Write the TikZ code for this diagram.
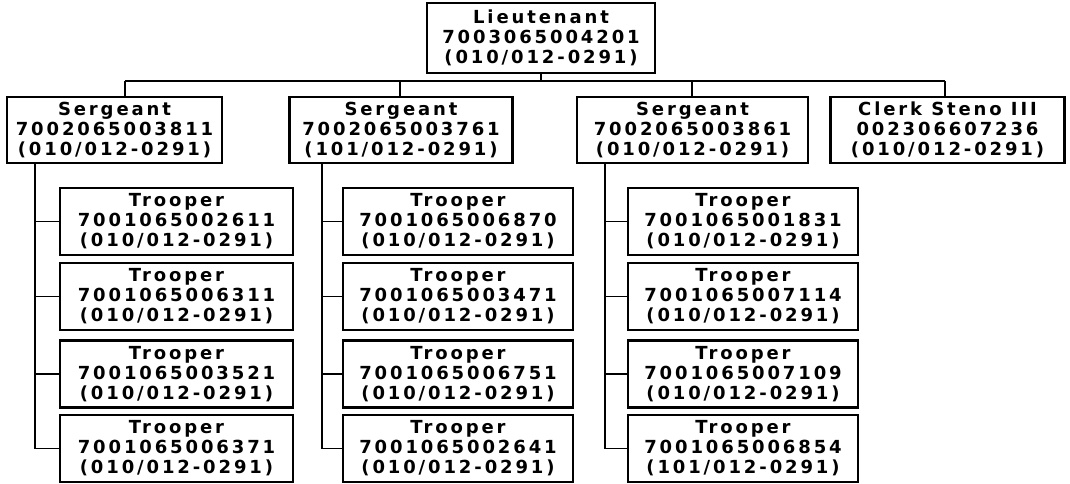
\documentclass[tikz,border=0pt]{standalone}
\usepackage{fontspec}
\newfontfamily\boxfont{DejaVu Sans}[LetterSpace=16]
\begin{document}
\begin{tikzpicture}[x=1pt,y=-1pt,
  box/.style={draw=black, line width=2.8pt, fill=white, align=center, inner sep=0pt,
    font=\boxfont\bfseries\fontsize{18}{20}\selectfont},
  conn/.style={draw=black, line width=1.3pt}]
\useasboundingbox (0,0) rectangle (1070,483);
% boxes
\node[box, minimum width=228pt, minimum height=70pt] (lt) at (541,38) {Lieutenant\\7003065004201\\(010/012-0291)};
\node[box, minimum width=215pt, minimum height=66pt] (s1) at (114.5,130) {Sergeant\\7002065003811\\(010/012-0291)};
\node[box, minimum width=223pt, minimum height=66pt] (s2) at (401,130) {Sergeant\\7002065003761\\(101/012-0291)};
\node[box, minimum width=231pt, minimum height=66pt] (s3) at (692.5,130) {Sergeant\\7002065003861\\(010/012-0291)};
\node[box, minimum width=234pt, minimum height=66pt] (ck) at (947.5,130) {Clerk Steno III\\002306607236\\(010/012-0291)};
% troopers
\foreach \c/\x in {1/176.5, 2/458, 3/743}{
  \foreach \r/\y in {1/221.5, 2/296.5, 3/374, 4/448.5}{
    \coordinate (p\c\r) at (\x,\y);
  }
}
\node[box, minimum width=233pt, minimum height=67pt] (t11) at (p11) {Trooper\\7001065002611\\(010/012-0291)};
\node[box, minimum width=233pt, minimum height=67pt] (t12) at (p12) {Trooper\\7001065006311\\(010/012-0291)};
\node[box, minimum width=233pt, minimum height=67pt] (t13) at (p13) {Trooper\\7001065003521\\(010/012-0291)};
\node[box, minimum width=233pt, minimum height=67pt] (t14) at (p14) {Trooper\\7001065006371\\(010/012-0291)};
\node[box, minimum width=230pt, minimum height=67pt] (t21) at (p21) {Trooper\\7001065006870\\(010/012-0291)};
\node[box, minimum width=230pt, minimum height=67pt] (t22) at (p22) {Trooper\\7001065003471\\(010/012-0291)};
\node[box, minimum width=230pt, minimum height=67pt] (t23) at (p23) {Trooper\\7001065006751\\(010/012-0291)};
\node[box, minimum width=230pt, minimum height=67pt] (t24) at (p24) {Trooper\\7001065002641\\(010/012-0291)};
\node[box, minimum width=230pt, minimum height=67pt] (t31) at (p31) {Trooper\\7001065001831\\(010/012-0291)};
\node[box, minimum width=230pt, minimum height=67pt] (t32) at (p32) {Trooper\\7001065007114\\(010/012-0291)};
\node[box, minimum width=230pt, minimum height=67pt] (t33) at (p33) {Trooper\\7001065007109\\(010/012-0291)};
\node[box, minimum width=230pt, minimum height=67pt] (t34) at (p34) {Trooper\\7001065006854\\(101/012-0291)};
% bus
\coordinate (busy) at (0,81);
\coordinate (d1) at (125,0);
\coordinate (d2) at (400,0);
\coordinate (d3) at (692,0);
\coordinate (d4) at (945,0);
\draw[conn] (lt.south) -- (lt.south |- busy);
\draw[conn] (d1 |- busy) -- (d4 |- busy);
\draw[conn] (d1 |- busy) -- (d1 |- s1.north);
\draw[conn] (d2 |- busy) -- (d2 |- s2.north);
\draw[conn] (d3 |- busy) -- (d3 |- s3.north);
\draw[conn] (d4 |- busy) -- (d4 |- ck.north);
% trooper spines
\coordinate (v1) at (35,0);
\coordinate (v2) at (322,0);
\coordinate (v3) at (605,0);
\draw[conn] (v1 |- s1.south) |- (t14.west);
\draw[conn] (v2 |- s2.south) |- (t24.west);
\draw[conn] (v3 |- s3.south) |- (t34.west);
\foreach \c in {1,2,3}{
  \foreach \r in {1,2,3}{
    \draw[conn] (v\c |- t\c\r.west) -- (t\c\r.west);
  }
}
\end{tikzpicture}
\end{document}
